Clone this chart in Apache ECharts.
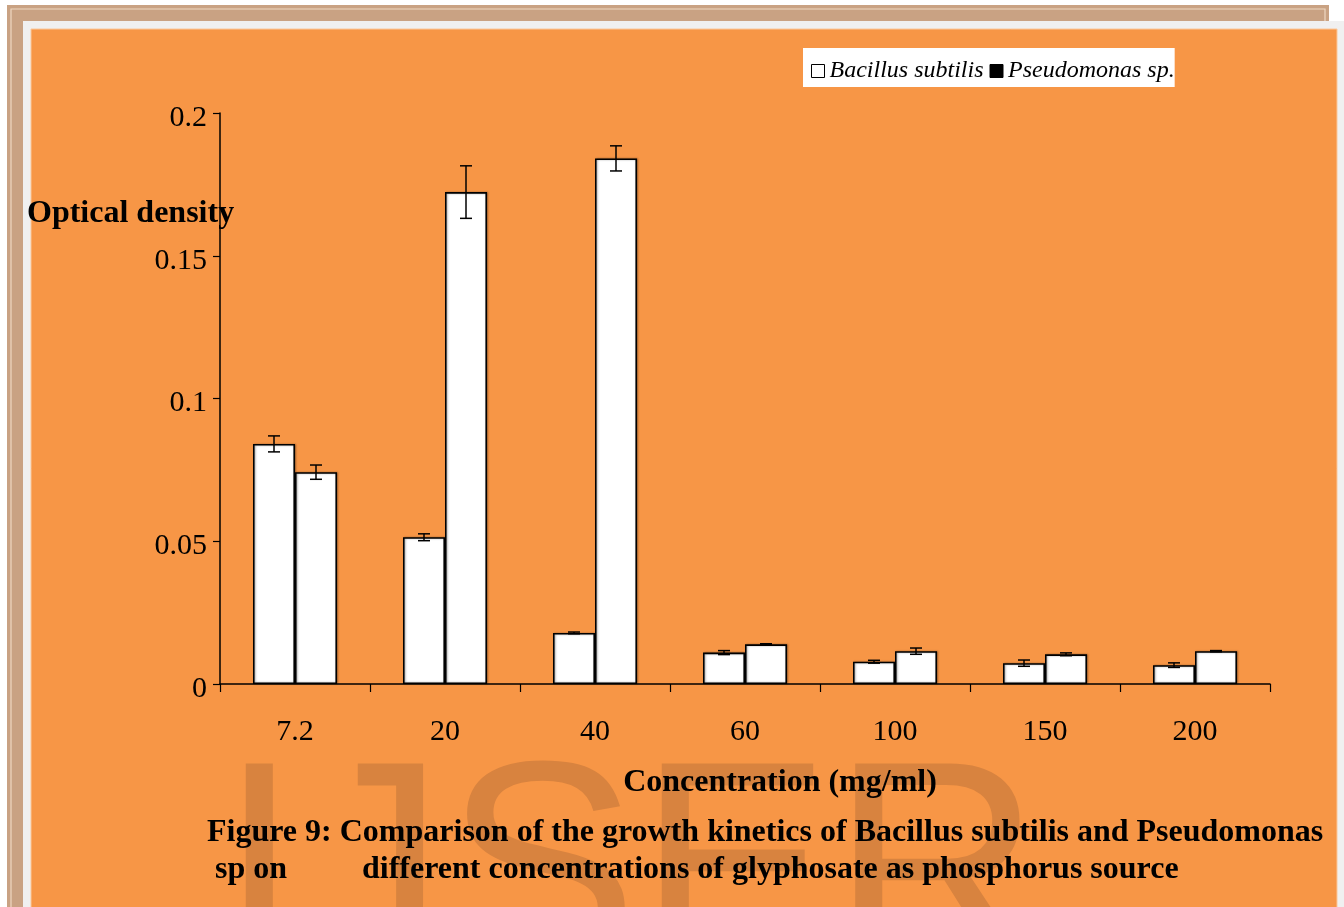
<!DOCTYPE html>
<html>
<head>
<meta charset="utf-8">
<title>Growth kinetics on glyphosate</title>
<script src="https://cdn.jsdelivr.net/npm/echarts@6/dist/echarts.min.js"></script>
<style>
  html, body { margin: 0; padding: 0; background: #ffffff; }
  #chart { width: 1344px; height: 907px; }
</style>
</head>
<body>
<div id="chart"></div>
<script>
// Glyphosate concentrations (mg/ml)
const categories = ['7.2', '20', '40', '60', '100', '150', '200'];
// Mean optical density per organism
const bacillus = [0.0841, 0.0514, 0.0179, 0.0110, 0.0078, 0.0073, 0.0066];
const pseudomonas = [0.0742, 0.1723, 0.1841, 0.0139, 0.0115, 0.0104, 0.0115];
// Standard errors
const bacillusErr = [0.0028, 0.0012, 0.0003, 0.0007, 0.0005, 0.0011, 0.0008];
const pseudomonasErr = [0.0025, 0.0092, 0.0044, 0.0002, 0.0011, 0.0005, 0.0002];
// Y axis ticks
const yTicks = [0, 0.05, 0.1, 0.15, 0.2];

const SERIF = "'Liberation Serif', 'Times New Roman', serif";
const BAR_W = 42;

const chart = echarts.init(document.getElementById('chart'), null, { renderer: 'canvas' });

function errorSeries(name, values, errs, offset) {
  return {
    name: name,
    type: 'custom',
    z: 5,
    silent: true,
    data: values.map((v, i) => [i, v, errs[i]]),
    encode: { x: 0, y: 1 },
    renderItem: function (params, api) {
      const i = api.value(0), v = api.value(1), e = api.value(2);
      const top = api.coord([i, v + e]);
      const bot = api.coord([i, v - e]);
      const x = top[0] + offset;
      const cap = 6;
      const style = { stroke: '#000', lineWidth: 1.5 };
      return {
        type: 'group',
        children: [
          { type: 'line', shape: { x1: x, y1: top[1], x2: x, y2: bot[1] }, style: style },
          { type: 'line', shape: { x1: x - cap, y1: top[1], x2: x + cap, y2: top[1] }, style: style },
          { type: 'line', shape: { x1: x - cap, y1: bot[1], x2: x + cap, y2: bot[1] }, style: style }
        ]
      };
    }
  };
}

const barStyle = {
  color: '#ffffff',
  borderColor: '#000000',
  borderWidth: 1.6,
  shadowColor: 'rgba(0,0,0,0.35)',
  shadowBlur: 2,
  shadowOffsetX: 1,
  shadowOffsetY: 0
};

const option = {
  backgroundColor: '#ffffff',
  animation: false,
  graphic: [
    // page frame
    { type: 'rect', z: -100, shape: { x: 7, y: 5, width: 1322, height: 920 }, style: { fill: '#c9a283' } },
    { type: 'polyline', z: -99, shape: { points: [[11, 930], [11, 9], [1325, 9], [1325, 21]] }, style: { stroke: '#efd8c2', lineWidth: 1.2, fill: null } },
    { type: 'rect', z: -98, shape: { x: 23, y: 21, width: 1321, height: 900 }, style: { fill: '#f0f0f0' } },
    { type: 'rect', z: -97, shape: { x: 31, y: 29, width: 1306, height: 900 }, style: { fill: '#f79646', stroke: '#fbc89c', lineWidth: 1 } },
    // publisher mark
    { type: 'text', z: -90, left: 219, top: 738, style: { text: 'IJSER', font: "290px 'Liberation Sans', Arial, sans-serif", fill: '#d8833f' } },
    // y axis title
    { type: 'text', z: 10, x: 27, y: 214, style: { text: 'Optical density', font: 'bold 32px ' + SERIF, fill: '#000', textVerticalAlign: 'middle' } },
    // x axis title
    { type: 'text', z: 10, x: 780, y: 783, style: { text: 'Concentration (mg/ml)', font: 'bold 32px ' + SERIF, fill: '#000', textAlign: 'center', textVerticalAlign: 'middle' } },
    // caption
    { type: 'text', z: 10, x: 207, y: 833, style: { text: 'Figure 9: Comparison of the growth kinetics of Bacillus subtilis and Pseudomonas', font: 'bold 32px ' + SERIF, fill: '#000', textVerticalAlign: 'middle' } },
    { type: 'text', z: 10, x: 215, y: 870, style: { text: 'sp on', font: 'bold 32px ' + SERIF, fill: '#000', textVerticalAlign: 'middle' } },
    { type: 'text', z: 10, x: 362, y: 870, style: { text: 'different concentrations of glyphosate as phosphorus source', font: 'bold 32px ' + SERIF, fill: '#000', textVerticalAlign: 'middle' } }
  ],
  legend: {
    left: 803,
    top: 48,
    orient: 'horizontal',
    icon: 'rect',
    itemWidth: 13,
    itemHeight: 13,
    itemGap: 6,
    padding: [11, 0, 4, 8],
    backgroundColor: '#ffffff',
    textStyle: { fontFamily: SERIF, fontStyle: 'italic', fontSize: 24, color: '#000' },
    data: [
      { name: 'Bacillus subtilis', itemStyle: { color: '#ffffff', borderColor: '#000', borderWidth: 1 } },
      { name: 'Pseudomonas sp.', itemStyle: { color: '#000000', borderColor: '#000', borderWidth: 1 } }
    ]
  },
  grid: { left: 220, right: 74, top: 113, bottom: 223, containLabel: false },
  xAxis: {
    type: 'category',
    data: categories,
    boundaryGap: true,
    axisLine: { lineStyle: { color: '#000', width: 1.5 } },
    axisTick: { show: true, length: 8, lineStyle: { color: '#000', width: 1.2 } },
    axisLabel: { color: '#000', fontFamily: SERIF, fontSize: 30, margin: 33 },
    splitLine: { show: false }
  },
  yAxis: {
    type: 'value',
    min: yTicks[0],
    max: yTicks[yTicks.length - 1],
    interval: yTicks[1] - yTicks[0],
    axisLine: { show: true, lineStyle: { color: '#000', width: 1.5 } },
    axisTick: { show: true, length: 7, lineStyle: { color: '#000', width: 1.2 } },
    axisLabel: { color: '#000', fontFamily: SERIF, fontSize: 30, margin: 13, verticalAlign: 'top', lineHeight: 10 },
    splitLine: { show: false }
  },
  series: [
    { name: 'Bacillus subtilis', type: 'bar', data: bacillus, barWidth: BAR_W, barGap: '0%', itemStyle: barStyle },
    { name: 'Pseudomonas sp.', type: 'bar', data: pseudomonas, barWidth: BAR_W, barGap: '0%', itemStyle: barStyle },
    errorSeries('Bacillus subtilis SE', bacillus, bacillusErr, -BAR_W / 2),
    errorSeries('Pseudomonas sp. SE', pseudomonas, pseudomonasErr, BAR_W / 2)
  ]
};

chart.setOption(option);
</script>
</body>
</html>
